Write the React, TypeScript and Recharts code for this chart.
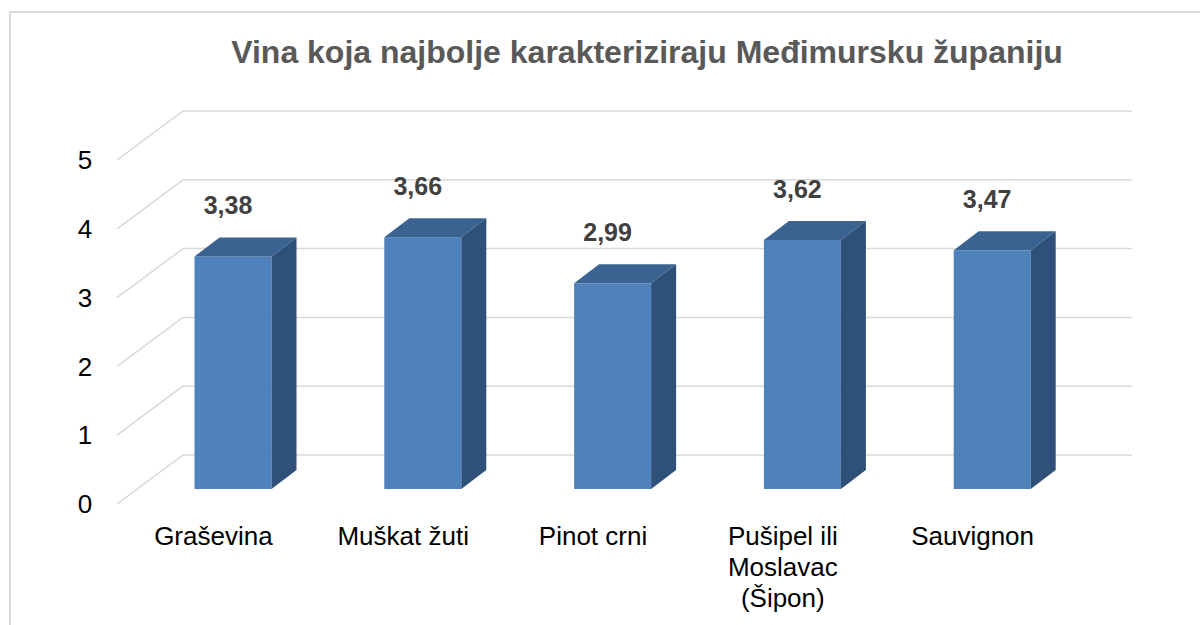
import { BarChart, Bar, XAxis, YAxis, CartesianGrid, LabelList } from 'recharts';

const categories = ['Graševina', 'Muškat žuti', 'Pinot crni', 'Pušipel ili Moslavac (Šipon)', 'Sauvignon'];
const scores = [3.38, 3.66, 2.99, 3.62, 3.47];
const yTicks = [0, 1, 2, 3, 4, 5];

const data = categories.map((name, i) => ({ name, value: scores[i] }));

const FONT = '"Liberation Sans", Arial, sans-serif';
const GRID = '#D9D9D9';
// 3D look: depth of each bar and of the back wall
const BAR_DX = 25;
const BAR_DY = 19;
const WALL_DX = 44.5;
const WALL_DY = 34;
const FRONT_DX = -21.5;
const FRONT_DY = 15;

// greedy word wrap, roughly as Excel wraps category labels
const wrap = (s: string, maxChars: number) => {
  const lines: string[] = [];
  let cur = '';
  for (const w of s.split(' ')) {
    const next = cur ? cur + ' ' + w : w;
    if (next.length > maxChars && cur) {
      lines.push(cur);
      cur = w;
    } else {
      cur = next;
    }
  }
  if (cur) lines.push(cur);
  return lines;
};

const Box3D = (props: any) => {
  const { x, y, width, height } = props;
  if (height <= 0) return null;
  const r = x + width;
  const b = y + height;
  return (
    <g>
      <rect x={x} y={y} width={width} height={height} fill="#4F81BD" />
      <polygon
        points={`${x},${y} ${x + BAR_DX},${y - BAR_DY} ${r + BAR_DX},${y - BAR_DY} ${r},${y}`}
        fill="#3B6391"
      />
      <polygon
        points={`${r},${y} ${r + BAR_DX},${y - BAR_DY} ${r + BAR_DX},${b - BAR_DY} ${r},${b}`}
        fill="#2F5179"
      />
    </g>
  );
};

const WallLine = (props: any) => {
  const { x1, x2, y1 } = props;
  const bx = x1 + WALL_DX;
  const by = y1 - WALL_DY;
  return (
    <g key={props.key}>
      <line x1={bx} y1={by} x2={x2 + WALL_DX} y2={by} stroke={GRID} strokeWidth={1.5} />
      <line x1={bx} y1={by} x2={x1 + FRONT_DX} y2={y1 + FRONT_DY} stroke={GRID} strokeWidth={1.5} />
    </g>
  );
};

const YTick = (props: any) => {
  const { y, payload } = props;
  return (
    <text x={85} y={y + FRONT_DY} dy="0.35em" textAnchor="middle" fontSize={26} fontFamily={FONT} fill="#000">
      {payload.value}
    </text>
  );
};

const XTick = (props: any) => {
  const { x, payload } = props;
  const lines = wrap(String(payload.value), 12);
  return (
    <text x={x - 20} y={545} textAnchor="middle" fontSize={26} fontFamily={FONT} fill="#000">
      {lines.map((line, i) => (
        <tspan key={i} x={x - 20} dy={i === 0 ? 0 : 31}>
          {line}
        </tspan>
      ))}
    </text>
  );
};

const ValueLabel = (props: any) => {
  const { x, y, width, value } = props;
  return (
    <text
      x={x + width / 2 - 5}
      y={y - 42}
      textAnchor="middle"
      fontSize={25}
      fontWeight="bold"
      fontFamily={FONT}
      fill="#404040"
    >
      {Number(value).toFixed(2).replace('.', ',')}
    </text>
  );
};

export default function App() {
  return (
    <div style={{ position: 'fixed', left: 0, top: 0, width: 1200, height: 625, overflow: 'hidden', background: '#fff' }}>
      <svg width={1200} height={625} style={{ position: 'absolute', left: 0, top: 0 }}>
        <rect x={10} y={12} width={1300} height={800} fill="none" stroke={GRID} strokeWidth={2} />
        <text x={647} y={63} textAnchor="middle" fontSize={32} fontWeight="bold" fontFamily={FONT} fill="#595959">
          Vina koja najbolje karakteriziraju Međimursku županiju
        </text>
      </svg>
      <div style={{ position: 'absolute', left: 0, top: 0 }}>
        <BarChart
          width={1200}
          height={625}
          data={data}
          margin={{ top: 145, right: 112.5, bottom: 106, left: 78.5 }}
          barSize={77}
        >
          <CartesianGrid vertical={false} horizontal={WallLine} />
          <XAxis dataKey="name" axisLine={false} tickLine={false} height={30} interval={0} tick={XTick} />
          <YAxis domain={[0, 5]} ticks={yTicks} width={60} axisLine={false} tickLine={false} tick={YTick} />
          <Bar dataKey="value" shape={Box3D} isAnimationActive={false}>
            <LabelList dataKey="value" content={ValueLabel} />
          </Bar>
        </BarChart>
      </div>
    </div>
  );
}
